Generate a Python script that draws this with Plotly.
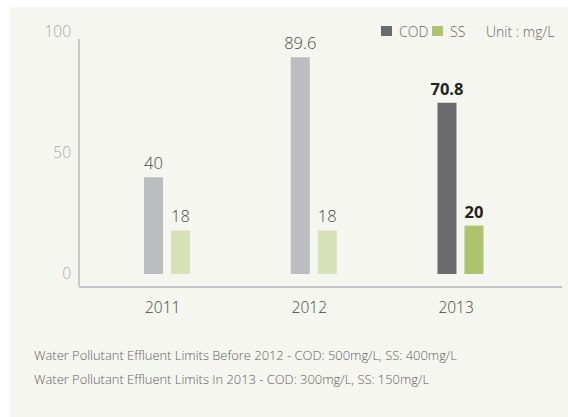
import plotly.graph_objects as go

# ---- data ----
years = ["2011", "2012", "2013"]
cod_values = [40, 89.6, 70.8]
ss_values = [18, 18, 20]
cod_colors = ["#bcbdc1", "#bcbdc1", "#6a6b6f"]
ss_colors = ["#d6e1b8", "#d6e1b8", "#adc46c"]
label_colors = ["#4a4a4a", "#4a4a4a", "#222222"]
label_weights = [300, 300, "bold"]
y_ticks = [0, 50, 100]
notes = [
    "Water Pollutant Effluent Limits Before 2012 - COD: 500mg/L, SS: 400mg/L",
    "Water Pollutant Effluent Limits In 2013 - COD: 300mg/L, SS: 150mg/L",
]

FONT = "Open Sans"
BG = "#f6f6f0"

# ---- page geometry (pixels) ----
W, H = 568, 417
L, R, T, B = 79, 6, 32, 131
PW, PH = W - L - R, H - T - B
X_RANGE = [-0.6, 2.692]
Y_RANGE = [-4.96, 100]
UNIT_PX = PW / (X_RANGE[1] - X_RANGE[0])

bar_w = 19 / UNIT_PX
cod_off = -23 / UNIT_PX
ss_off = 4 / UNIT_PX
xpos = list(range(len(years)))


def px_x(px):
    return (px - L) / PW


def px_y(py):
    return (T + PH - py) / PH


fig = go.Figure()

for vals, cols, off in ((cod_values, cod_colors, cod_off), (ss_values, ss_colors, ss_off)):
    fig.add_trace(go.Bar(
        x=xpos, y=vals, width=bar_w, offset=off,
        marker=dict(color=cols, line=dict(width=0)),
        text=[f"{v:g}" for v in vals], textposition="outside",
        constraintext="none", cliponaxis=False,
        textfont=dict(family=FONT, size=16.5, color=label_colors, weight=label_weights),
        showlegend=False, hoverinfo="skip",
    ))

shapes = [
    # cream panel
    dict(type="rect", xref="paper", yref="paper", layer="below",
         x0=px_x(10), x1=px_x(W + 2), y0=px_y(H + 2), y1=px_y(7),
         fillcolor=BG, line=dict(width=0)),
    # vertical axis line
    dict(type="line", xref="paper", yref="y", x0=0, x1=0, y0=Y_RANGE[0], y1=97.1,
         line=dict(color="#9a9a9a", width=1)),
    # legend swatches
    dict(type="rect", xref="paper", yref="paper", x0=px_x(381), x1=px_x(392),
         y0=px_y(36), y1=px_y(26), fillcolor="#6a6b6f", line=dict(width=0)),
    dict(type="rect", xref="paper", yref="paper", x0=px_x(432), x1=px_x(443),
         y0=px_y(36), y1=px_y(26), fillcolor="#adc46c", line=dict(width=0)),
]

annotations = [
    dict(text="COD", x=px_x(397), y=px_y(31), xanchor="left", yanchor="middle"),
    dict(text="SS", x=px_x(448), y=px_y(31), xanchor="left", yanchor="middle"),
    dict(text="Unit : mg/L", x=px_x(484), y=px_y(31), xanchor="left", yanchor="middle"),
]
for a in annotations:
    a.update(xref="paper", yref="paper", showarrow=False,
             font=dict(family=FONT, size=14, color="#666666", weight=300))

for i, line in enumerate(notes):
    annotations.append(dict(
        text=line, xref="paper", yref="paper", x=px_x(32), y=px_y(355 + 24 * i),
        xanchor="left", yanchor="middle", showarrow=False,
        font=dict(family=FONT, size=12.9, color="#5e5e5e", weight=300),
    ))

fig.update_layout(
    width=W, height=H,
    margin=dict(l=L, r=R, t=T, b=B, pad=0),
    paper_bgcolor="white", plot_bgcolor=BG,
    barmode="overlay",
    shapes=shapes, annotations=annotations,
    font=dict(family=FONT),
    xaxis=dict(
        range=X_RANGE, tickvals=[p - 0.03 for p in xpos], ticktext=years,
        showgrid=False, zeroline=False, fixedrange=True,
        showline=True, linecolor="#c4c4c4", linewidth=2,
        ticks="", ticklabelstandoff=6,
        tickfont=dict(family=FONT, size=15.5, color="#444444", weight=300),
    ),
    yaxis=dict(
        range=Y_RANGE, tickvals=y_ticks,
        showgrid=False, zeroline=False, showline=False, fixedrange=True,
        ticks="", ticklabelstandoff=7,
        tickfont=dict(family=FONT, size=15.5, color="#a8a8a8", weight=300),
    ),
)

fig.write_html("out.html", config={"displayModeBar": False})
